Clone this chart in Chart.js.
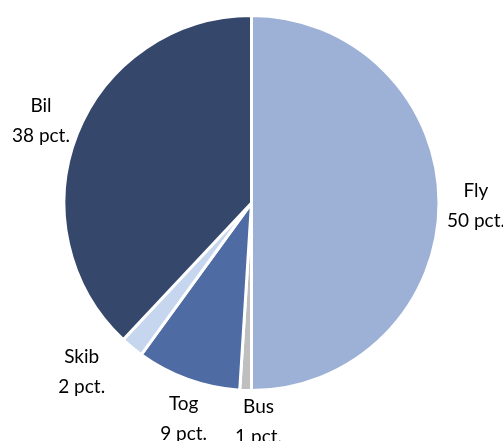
<!DOCTYPE html>
<html>
<head>
<meta charset="utf-8">
<script src="https://cdn.jsdelivr.net/npm/chart.js@4/dist/chart.umd.min.js"></script>
<style>
  html, body { margin: 0; padding: 0; background: #fff; }
  #wrap { width: 503px; height: 441px; }
</style>
</head>
<body>
<div id="wrap"><canvas id="miCanva" width="503" height="441"></canvas></div>
<script>
const categories = ["Fly", "Bus", "Tog", "Skib", "Bil"];
const shares = [50, 1, 9, 2, 38];
const sliceColors = ["#9db0d6", "#bfbfbf", "#4f6ba3", "#c6d6ee", "#35476b"];

// labels outside each slice: name on one line, "NN pct." below
const outsideLabels = {
  id: "outsideLabels",
  afterDatasetsDraw(chart, args, opts) {
    const ctx = chart.ctx;
    const meta = chart.getDatasetMeta(0);
    const fontSize = opts.size;
    const lineH = opts.lineHeight;
    ctx.save();
    ctx.font = fontSize + "px " + opts.family;
    ctx.fillStyle = "#000";
    ctx.textAlign = "center";
    ctx.textBaseline = "middle";
    meta.data.forEach((arc, i) => {
      const p = arc.getProps(["x", "y", "startAngle", "endAngle", "outerRadius"], true);
      const mid = (p.startAngle + p.endAngle) / 2;
      const dx = Math.cos(mid), dy = Math.sin(mid);
      const line1 = categories[i];
      const line2 = shares[i] + " pct.";
      const w = Math.max(ctx.measureText(line1).width, ctx.measureText(line2).width);
      const h = lineH + fontSize;
      const r = p.outerRadius + 10;
      // small shifts so crowded labels sit where they do in the original
      const nudge = opts.nudge[i] || [0, 0];
      const cx = p.x + dx * r + dx * w / 2 + nudge[0];
      const cy = p.y + dy * r + dy * h / 2 + nudge[1];
      ctx.fillText(line1, cx, cy - lineH / 2);
      ctx.fillText(line2, cx, cy + lineH / 2);
    });
    ctx.restore();
  }
};

const canvas = document.getElementById("miCanva");
const ctx = canvas.getContext("2d");
canvas.chart = new Chart(ctx, {
  type: "pie",
  data: {
    labels: categories,
    datasets: [
      {
        data: shares,
        backgroundColor: sliceColors,
        borderColor: "#ffffff",
        borderWidth: 3,
      },
    ],
  },
  options: {
    responsive: false,
    animation: false,
    layout: { padding: { top: 14, bottom: 49, left: 60, right: 60 } },
    plugins: {
      legend: { display: false },
      tooltip: { enabled: false },
      outsideLabels: {
        family: "Lato",
        size: 19,
        lineHeight: 30,
        nudge: [[-2, 3], [14, -3], [7, 7], [-29, -2], [0, 0]],
      },
    },
  },
  plugins: [outsideLabels],
});
</script>
</body>
</html>
